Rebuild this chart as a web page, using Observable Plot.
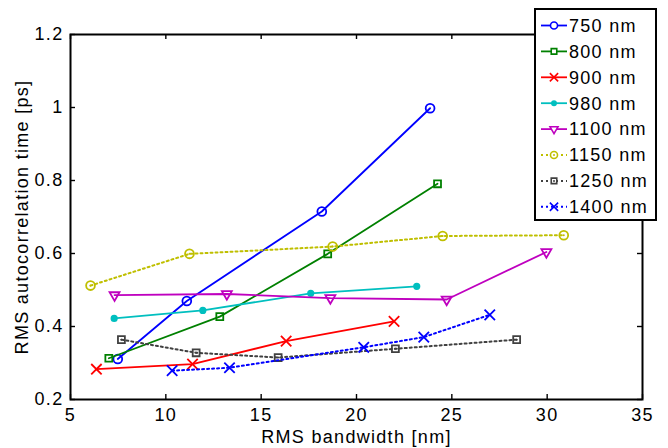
<!DOCTYPE html>
<html><head><meta charset="utf-8">
<script src="https://cdn.jsdelivr.net/npm/d3@7"></script>
<script src="https://cdn.jsdelivr.net/npm/@observablehq/plot@0.6"></script>
<style>body{margin:0;background:#fff;} #chart{position:relative;width:668px;height:448px;}</style>
</head><body><div id="chart"></div>
<script>
// ---- data ----
const series = ["750 nm","800 nm","900 nm","980 nm","1100 nm","1150 nm","1250 nm","1400 nm"];
const bw750  = [7.48, 11.10, 18.18, 23.86];
const t750   = [0.311, 0.470, 0.715, 0.998];
const bw800  = [7.01, 12.83, 18.49, 24.25];
const t800   = [0.313, 0.427, 0.599, 0.791];
const bw900  = [6.36, 11.40, 16.31, 21.97];
const t900   = [0.283, 0.297, 0.360, 0.414];
const bw980  = [7.29, 11.94, 17.60, 23.16];
const t980   = [0.422, 0.444, 0.491, 0.510];
const bw1100 = [7.31, 13.20, 18.63, 24.73, 29.96];
const t1100  = [0.486, 0.489, 0.478, 0.474, 0.604];
const bw1150 = [6.05, 11.24, 18.75, 24.52, 30.87];
const t1150  = [0.512, 0.599, 0.619, 0.648, 0.650];
const bw1250 = [7.67, 11.59, 15.89, 22.04, 28.40];
const t1250  = [0.364, 0.328, 0.315, 0.339, 0.364];
const bw1400 = [10.33, 13.34, 20.38, 23.53, 26.99];
const t1400  = [0.279, 0.287, 0.343, 0.371, 0.432];
const xTicks = [5, 10, 15, 20, 25, 30, 35];
const yTicks = [0.2, 0.4, 0.6, 0.8, 1, 1.2];
const xTitle = "RMS bandwidth [nm]";
const yTitle = "RMS autocorrelation time [ps]";

// ---- styles ----
const styles = [
  {color:"#0000ff", symbol:"circle",   fill:"none",    r:4.4, dash:null},
  {color:"#008000", symbol:"square",   fill:"none",    r:3.9, dash:null},
  {color:"#ff0000", symbol:"times",    fill:"none",    r:4.8, dash:null},
  {color:"#00bfbf", symbol:"circle",   fill:"#00bfbf", r:2.7, dash:null},
  {color:"#bf00bf", symbol:"triangle", fill:"none",    r:3.7, dash:null, rotate:180},
  {color:"#bfbf00", symbol:"circle",   fill:"none",    r:4.4, dash:"2,3", center:true},
  {color:"#404040", symbol:"square",   fill:"none",    r:3.9, dash:"2,3", center:true},
  {color:"#0000ff", symbol:"times",    fill:"none",    r:4.8, dash:"2,3"}
];
const FONT = "Liberation Sans, Arial, Helvetica, sans-serif";

const bws = [bw750, bw800, bw900, bw980, bw1100, bw1150, bw1250, bw1400];
const ts  = [t750, t800, t900, t980, t1100, t1150, t1250, t1400];
const rows = series.flatMap((s, i) => bws[i].map((b, j) => ({series: s, bw: b, t: ts[i][j]})));

const marks = [];
series.forEach((s, i) => {
  const st = styles[i];
  const data = rows.filter(d => d.series === s);
  marks.push(Plot.line(data, {x: "bw", y: "t", stroke: st.color, strokeWidth: st.dash ? 2 : 1.8,
    strokeDasharray: st.dash || undefined}));
  marks.push(Plot.dot(data, {x: "bw", y: "t", symbol: st.symbol, r: st.r, stroke: st.color,
    fill: st.fill, strokeWidth: 1.8, rotate: st.rotate || 0}));
  if (st.center) marks.push(Plot.dot(data, {x: "bw", y: "t", r: 1, fill: st.color, stroke: "none"}));
});

const xMin = xTicks[0], xMax = xTicks[xTicks.length - 1];
const yMin = yTicks[0], yMax = yTicks[yTicks.length - 1];
const fmt = d => String(d);
const TK = 5;
const plot = Plot.plot({
  width: 668, height: 448,
  marginLeft: 70, marginRight: 26, marginTop: 34, marginBottom: 49,
  x: {domain: [xMin, xMax]},
  y: {domain: [yMin, yMax]},
  style: {fontFamily: FONT, fontSize: "18px", letterSpacing: "1.3px", background: "white", overflow: "visible", color: "black"},
  marks: [
    ...marks,
    // inward ticks on all four sides
    Plot.ruleX(xTicks, {x: d => d, y1: yMin, y2: yMin, insetTop: -TK, stroke: "black", strokeWidth: 1.4}),
    Plot.ruleX(xTicks, {x: d => d, y1: yMax, y2: yMax, insetBottom: -TK, stroke: "black", strokeWidth: 1.4}),
    Plot.ruleY(yTicks, {y: d => d, x1: xMin, x2: xMin, insetRight: -TK, stroke: "black", strokeWidth: 1.4}),
    Plot.ruleY(yTicks, {y: d => d, x1: xMax, x2: xMax, insetLeft: -TK, stroke: "black", strokeWidth: 1.4}),
    Plot.frame({stroke: "black", strokeWidth: 2}),
    Plot.axisX({ticks: xTicks, anchor: "bottom", tickSize: 0, tickPadding: 9, tickFormat: fmt, label: null, fontSize: 18}),
    Plot.axisY({ticks: yTicks, anchor: "left", tickSize: 0, tickPadding: 7, tickFormat: fmt, label: null, fontSize: 18}),
    Plot.text([xTitle], {text: d => d, frameAnchor: "bottom", dy: 38, textAnchor: "middle", lineAnchor: "middle", fontSize: 18, fill: "black"}),
    Plot.text([yTitle], {text: d => d, frameAnchor: "left", dx: -48, rotate: -90, textAnchor: "middle", lineAnchor: "middle", fontSize: 18, fill: "black"})
  ]
});
const chart = document.getElementById("chart");
chart.appendChild(plot);

// ---- legend ----
const symMap = {circle: d3.symbolCircle, square: d3.symbolSquare, times: d3.symbolTimes, triangle: d3.symbolTriangle};
const svg = d3.select(plot);
const lg = svg.append("g").attr("transform", "translate(535,9)").attr("text-anchor", "start");
lg.append("rect").attr("width", 121).attr("height", 211).attr("fill", "white")
  .attr("stroke", "black").attr("stroke-width", 2);
series.forEach((s, i) => {
  const st = styles[i];
  const g = lg.append("g").attr("transform", `translate(0,${16.5 + i * 25.9})`);
  const ln = g.append("line").attr("x1", 6).attr("x2", 32).attr("y1", 0).attr("y2", 0)
    .attr("stroke", st.color).attr("stroke-width", st.dash ? 2 : 1.8);
  if (st.dash) ln.attr("stroke-dasharray", st.dash);
  const rr = st.r * 0.8;
  g.append("path").attr("d", d3.symbol(symMap[st.symbol], rr * rr * Math.PI)())
    .attr("transform", `translate(19,0) rotate(${st.rotate || 0})`)
    .attr("fill", st.fill === "none" ? "white" : st.fill).attr("stroke", st.color).attr("stroke-width", 1.6);
  if (st.center) g.append("circle").attr("cx", 19).attr("cy", 0).attr("r", 1).attr("fill", st.color);
  g.append("text").attr("x", 34).attr("y", 0).attr("dy", "0.35em").attr("text-anchor", "start").text(s)
    .attr("font-family", FONT).attr("font-size", 18).attr("letter-spacing", "1.3px").attr("fill", "black");
});
</script>
</body></html>
